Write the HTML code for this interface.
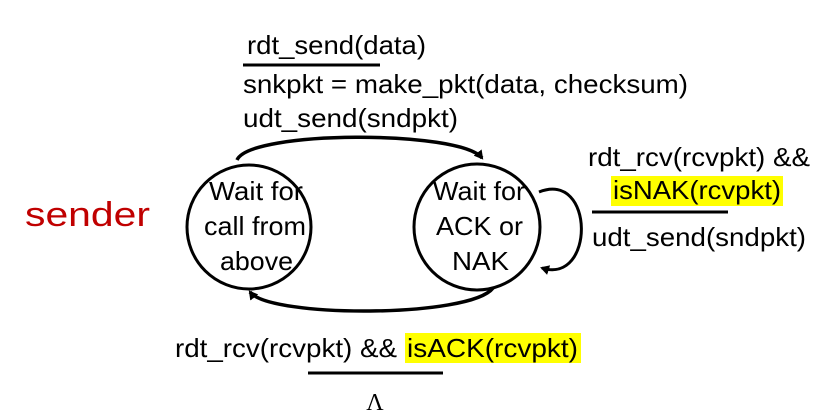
<!DOCTYPE html>
<html><head><meta charset="utf-8"><style>
html,body{margin:0;padding:0;background:#fff;}
svg{display:block;}
text{font-family:"Liberation Sans",Arial,sans-serif;font-size:26px;fill:#000;}
</style></head><body>
<svg width="834" height="417" viewBox="0 0 834 417" xmlns="http://www.w3.org/2000/svg">
<defs>
<marker id="a" markerWidth="10" markerHeight="10" refX="7" refY="5" orient="auto" markerUnits="userSpaceOnUse">
<path d="M0,0 L9,5 L0,10 z" fill="#000"/>
</marker>
</defs>
<text x="25" y="226" style="font-size:34px;fill:#c00000" textLength="125" lengthAdjust="spacingAndGlyphs">sender</text>
<circle cx="249" cy="227" r="62" fill="none" stroke="#000" stroke-width="3"/>
<circle cx="477" cy="227" r="63" fill="none" stroke="#000" stroke-width="3"/>
<text x="209" y="200" textLength="94" lengthAdjust="spacingAndGlyphs">Wait for</text>
<text x="204" y="235" textLength="102" lengthAdjust="spacingAndGlyphs">call from</text>
<text x="220" y="270" textLength="73" lengthAdjust="spacingAndGlyphs">above</text>
<text x="433" y="200" textLength="92" lengthAdjust="spacingAndGlyphs">Wait for</text>
<text x="436" y="235" textLength="87" lengthAdjust="spacingAndGlyphs">ACK or</text>
<text x="452" y="270" textLength="57" lengthAdjust="spacingAndGlyphs">NAK</text>
<path d="M237,160 C250,130 460,130 482,158" fill="none" stroke="#000" stroke-width="3.5" marker-end="url(#a)"/>
<path d="M493,288 C470,318 270,318 250,292" fill="none" stroke="#000" stroke-width="3.5" marker-end="url(#a)"/>
<path d="M539,192 C595,170 595,285 542,268" fill="none" stroke="#000" stroke-width="3" marker-end="url(#a)"/>
<text x="247" y="54" textLength="179" lengthAdjust="spacingAndGlyphs">rdt_send(data)</text>
<line x1="243" y1="65" x2="380" y2="65" stroke="#000" stroke-width="3"/>
<text x="243" y="93" textLength="445" lengthAdjust="spacingAndGlyphs">snkpkt = make_pkt(data, checksum)</text>
<text x="243" y="127" textLength="215" lengthAdjust="spacingAndGlyphs">udt_send(sndpkt)</text>
<text x="588" y="166" textLength="222" lengthAdjust="spacingAndGlyphs">rdt_rcv(rcvpkt) &amp;&amp;</text>
<rect x="611" y="176" width="172" height="30" fill="#ffff00"/>
<text x="613" y="199" textLength="168" lengthAdjust="spacingAndGlyphs">isNAK(rcvpkt)</text>
<line x1="592" y1="212" x2="728" y2="212" stroke="#000" stroke-width="3"/>
<text x="592" y="246" textLength="214" lengthAdjust="spacingAndGlyphs">udt_send(sndpkt)</text>
<rect x="405" y="333" width="176" height="30" fill="#ffff00"/>
<text x="175" y="357" textLength="222" lengthAdjust="spacingAndGlyphs">rdt_rcv(rcvpkt) &amp;&amp;</text>
<text x="407" y="357" textLength="171" lengthAdjust="spacingAndGlyphs">isACK(rcvpkt)</text>
<line x1="308" y1="373" x2="443" y2="373" stroke="#000" stroke-width="3"/>
<text x="375" y="410" text-anchor="middle" style="font-family:'Liberation Serif',serif;font-size:24px">Λ</text>
</svg>
</body></html>
